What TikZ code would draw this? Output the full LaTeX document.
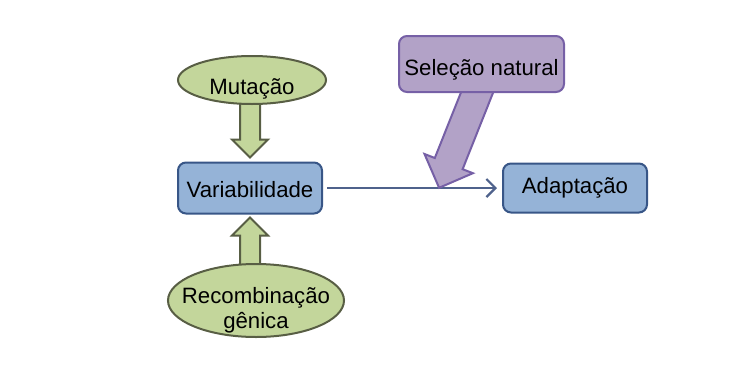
\documentclass[tikz,border=0pt]{standalone}
\usepackage{fontspec}
\setmainfont{Liberation Sans}
\usetikzlibrary{shapes.geometric,arrows.meta,calc,backgrounds}
\definecolor{greenfill}{RGB}{195,214,155}
\definecolor{greenline}{RGB}{88,94,68}
\definecolor{bluefill}{RGB}{149,179,215}
\definecolor{blueline}{RGB}{56,86,135}
\definecolor{purpfill}{RGB}{178,162,199}
\definecolor{purpline}{RGB}{118,96,166}
\definecolor{conn}{RGB}{79,98,140}
\tikzset{
  txt/.style={font=\fontsize{22.2}{26}\selectfont, text=black, inner sep=0pt, anchor=base},
  ell/.style={ellipse, draw=greenline, fill=greenfill, line width=2pt, inner sep=0pt},
  bbox/.style={rectangle, rounded corners=8pt, draw=blueline, fill=bluefill, line width=2pt, inner sep=0pt},
  pbox/.style={rectangle, rounded corners=8pt, draw=purpline, fill=purpfill, line width=2pt, inner sep=0pt},
  garrow/.style={draw=greenline, fill=greenfill, line width=2pt, line join=miter},
  parrow/.style={draw=purpline, fill=purpfill, line width=2pt, line join=miter},
  connector/.style={draw=conn, line width=2.2pt, -{Straight Barb[length=9pt,width=18pt,line width=2.2pt]}}
}
\begin{document}
\begin{tikzpicture}[x=1pt,y=-1pt]
\path[use as bounding box] (0,0) rectangle (748,389);
\node[ell, minimum width=148pt, minimum height=48pt] (mut) at (252,80) {};
\node[txt] (mutt) at (252,94) {Mutação};
\node[bbox, minimum width=144pt, minimum height=51pt] (var) at (250,188) {};
\node[txt] (vart) at (250,197) {Variabilidade};
\node[ell, minimum width=176pt, minimum height=73pt] (rec) at (256,300.5) {};
\node[txt] (rect1) at (256,303) {Recombinação};
\node[txt] (rect2) at (256,328) {gênica};
\node[bbox, minimum width=144pt, minimum height=49pt] (ada) at (575,188) {};
\node[txt] (adat) at (575,193) {Adaptação};
\node[pbox, minimum width=165pt, minimum height=56pt] (sel) at (481.5,64) {};
\node[txt] (selt) at (481.5,75) {Seleção natural};
\begin{pgfonlayer}{background}
  \draw[connector, shorten <=4pt, shorten >=5pt] (var.east) -- (var.east -| ada.west);
  \draw[parrow] ($(sel.center)+(14.4,21.6)$) -- ($(sel.center)+(-18.9,105.2)$)
     -- ($(sel.center)+(-8.6,109.2)$) -- ($(sel.center)+(-42.4,123.8)$)
     -- ($(sel.center)+(-57,90)$) -- ($(sel.center)+(-46.7,94)$)
     -- ($(sel.center)+(-13.4,10.5)$) -- cycle;
  \coordinate (t1) at ($(var.north)+(0,-4)$);
  \draw[garrow] (t1) -- ++(-18,-18) -- ++(8,0) -- ++(0,-38) -- ++(20,0) -- ++(0,38) -- ++(8,0) -- cycle;
  \coordinate (t2) at ($(var.south)+(0,3)$);
  \draw[garrow] (t2) -- ++(-18,18) -- ++(8,0) -- ++(0,34) -- ++(20,0) -- ++(0,-34) -- ++(8,0) -- cycle;
\end{pgfonlayer}
\end{tikzpicture}
\end{document}
